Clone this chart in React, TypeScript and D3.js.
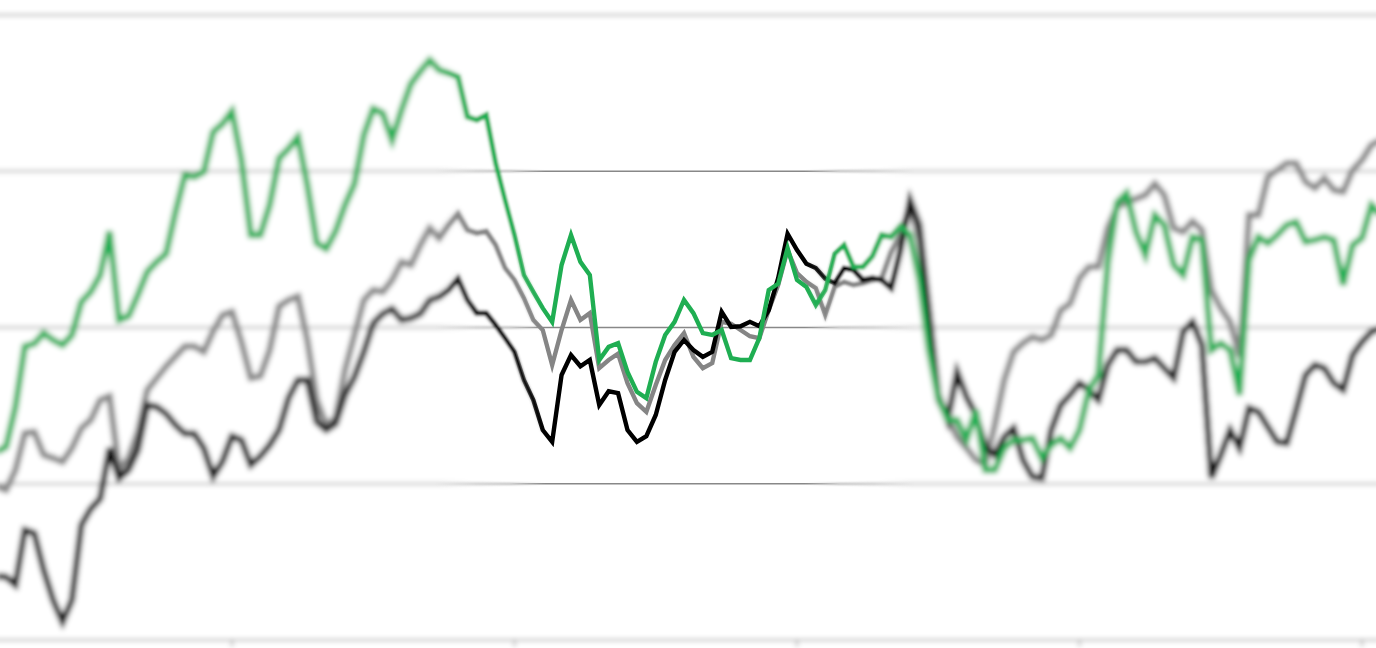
import React from 'react';
import * as d3 from 'd3';

// calendar days shown on the x axis (one point per day)
const days = d3.range(5, 153);

const grayValues = [
  24.6, 24.0, 27.2, 33.1, 33.3, 29.6, 29.1, 28.5, 30.7, 33.9,
  35.2, 38.4, 39.0, 27.2, 29.1, 33.3, 40.0, 41.9, 43.8, 45.4,
  47.0, 47.0, 46.1, 49.4, 52.0, 52.5, 47.7, 41.9, 42.2, 46.4,
  53.4, 54.4, 55.0, 48.0, 38.4, 34.4, 35.5, 43.2, 48.8, 54.4,
  56.0, 55.7, 57.6, 60.5, 60.0, 63.2, 65.9, 64.3, 66.4, 68.2,
  65.6, 65.1, 65.4, 63.2, 59.5, 57.6, 54.7, 51.2, 49.6, 44.0,
  49.6, 54.4, 51.2, 52.3, 43.5, 44.8, 45.8, 41.1, 37.9, 36.5,
  40.8, 44.8, 47.2, 49.1, 45.3, 43.5, 44.3, 50.9, 50.6, 49.6,
  48.6, 48.3, 52.8, 56.8, 62.4, 58.7, 57.3, 56.3, 52.0, 56.5,
  57.3, 56.8, 57.1, 57.6, 57.9, 62.1, 64.8, 69.6, 64.0, 52.8,
  38.4, 35.5, 32.5, 30.7, 28.8, 28.0, 34.4, 41.6, 46.1, 47.5,
  48.5, 48.0, 48.8, 52.8, 53.8, 57.9, 59.7, 59.7, 65.9, 69.3,
  70.1, 70.6, 71.2, 73.0, 71.2, 65.9, 65.3, 67.0, 65.6, 56.0,
  53.1, 50.9, 45.3, 68.0, 68.0, 74.1, 75.2, 76.3, 76.3, 73.3,
  72.3, 73.9, 72.0, 71.7, 75.2, 76.8, 79.2, 80.0,
];

const blackValues = [
  10.2, 10.1, 8.8, 17.6, 17.1, 11.2, 6.4, 2.9, 6.4, 18.4,
  21.0, 22.6, 30.7, 25.9, 27.2, 30.4, 37.6, 37.3, 36.2, 34.4,
  33.0, 33.0, 30.7, 26.2, 28.6, 32.6, 32.0, 28.0, 29.4, 31.2,
  33.6, 38.7, 41.6, 41.6, 34.9, 33.6, 34.6, 39.2, 42.1, 46.1,
  50.7, 52.2, 53.0, 51.2, 51.5, 52.2, 54.4, 54.9, 56.0, 57.8,
  54.4, 52.3, 52.3, 50.4, 48.3, 46.1, 41.6, 38.4, 33.6, 31.7,
  42.4, 45.6, 43.8, 44.8, 37.6, 39.8, 39.5, 33.6, 31.7, 32.6,
  36.0, 41.6, 46.1, 48.0, 46.4, 45.3, 46.1, 52.5, 50.1, 50.2,
  50.9, 50.2, 52.8, 57.9, 65.0, 62.4, 60.2, 59.5, 57.8, 57.1,
  59.5, 59.2, 57.6, 57.9, 57.6, 56.3, 62.4, 70.4, 66.4, 52.8,
  39.2, 35.2, 42.9, 38.9, 36.0, 30.9, 29.6, 32.5, 33.9, 28.8,
  26.1, 25.9, 33.6, 37.6, 39.2, 41.1, 40.0, 38.4, 44.0, 46.4,
  46.4, 44.5, 44.5, 45.1, 43.5, 41.9, 49.3, 50.9, 47.2, 25.9,
  29.6, 33.6, 30.7, 37.1, 36.5, 34.1, 31.7, 31.5, 36.8, 42.4,
  44.0, 43.5, 41.1, 40.0, 45.6, 47.7, 49.3, 49.9,
];

const greenValues = [
  30.1, 30.9, 37.3, 47.0, 47.4, 49.1, 48.0, 47.2, 48.8, 54.1,
  55.7, 58.4, 65.4, 51.2, 51.8, 55.2, 58.9, 60.5, 61.8, 68.5,
  74.4, 74.1, 74.9, 81.3, 82.6, 84.6, 76.8, 64.8, 64.8, 69.6,
  77.1, 78.6, 80.5, 72.8, 63.5, 62.6, 65.4, 69.6, 73.0, 80.8,
  85.0, 84.3, 80.0, 84.8, 89.0, 91.0, 92.8, 91.2, 90.7, 90.1,
  83.7, 83.2, 84.0, 76.3, 70.4, 64.8, 58.4, 55.7, 53.1, 50.9,
  60.0, 64.8, 60.5, 58.4, 44.8, 46.9, 47.5, 42.9, 39.7, 38.7,
  44.5, 48.8, 50.9, 54.4, 52.3, 49.1, 48.8, 49.6, 45.1, 44.8,
  44.8, 48.3, 56.0, 57.0, 62.7, 57.6, 56.5, 53.6, 56.0, 61.8,
  63.2, 59.7, 59.7, 61.4, 64.8, 64.5, 66.2, 64.8, 57.6, 46.4,
  38.7, 35.2, 35.2, 32.0, 36.8, 27.2, 27.2, 30.7, 32.0, 32.0,
  32.3, 29.1, 31.2, 32.3, 30.7, 33.6, 40.0, 42.4, 60.3, 70.0,
  71.5, 65.3, 61.6, 68.0, 66.4, 60.0, 58.4, 64.5, 64.0, 46.4,
  47.5, 46.4, 39.2, 60.8, 64.5, 63.5, 64.8, 66.4, 66.9, 63.7,
  64.0, 64.5, 64.0, 56.8, 63.2, 64.3, 69.6, 68.0,
];

const gridValues = [0, 25, 50, 75, 100];
const tickDays = [30, 60, 90, 120, 150];

const series = [
  { name: 'gray', color: '#858585', values: grayValues },
  { name: 'black', color: '#000000', values: blackValues },
  { name: 'green', color: '#1fae52', values: greenValues },
];

const width = 1376;
const height = 648;
const focusX = 675;

// depth-of-field bands: sharp in the middle, blurrier towards the edges
const base = { blur: 2.8, stroke: 6.4 };
const levels = [
  { id: 'l2', blur: 1.8, stroke: 5.5, inner: 200, outer: 240, top: 60, bottom: 590, fade: 40 },
  { id: 'l1', blur: 0.9, stroke: 4.9, inner: 165, outer: 200, top: 85, bottom: 565, fade: 40 },
  { id: 'l0', blur: 0, stroke: 4.4, inner: 130, outer: 165, top: 110, bottom: 540, fade: 45 },
];

const x = d3.scaleLinear().domain([0, 30]).range([-50.5, 232]);
const y = d3.scaleLinear().domain([0, 100]).range([640, 15]);

const line = d3
  .line<number>()
  .x((_, i) => x(days[i]))
  .y((d) => y(d));

const Scene = ({ stroke }: { stroke: number }) => (
  <g>
    <rect x={-100} y={-100} width={width + 200} height={height + 200} fill="#fff" />
    {gridValues.map((v) => (
      <line
        key={v}
        x1={-100}
        x2={width + 100}
        y1={y(v)}
        y2={y(v)}
        stroke="#888"
        strokeWidth={1.4}
      />
    ))}
    {tickDays.map((d) => (
      <line key={d} x1={x(d)} x2={x(d)} y1={y(0)} y2={y(0) + 7} stroke="#888" strokeWidth={1.4} />
    ))}
    {series.map((s) => (
      <path key={s.name} d={line(s.values) || ''} fill="none" stroke={s.color} strokeWidth={stroke} />
    ))}
  </g>
);

const big = { x: -100, y: -100, width: width + 200, height: height + 200 };

const App = () => {
  const offX = (px: number) => Math.max(0, Math.min(1, px / width));
  const offY = (px: number) => Math.max(0, Math.min(1, px / height));
  return (
    <svg
      width={width}
      height={height}
      style={{ position: 'absolute', left: 0, top: 0, display: 'block' }}
    >
      <defs>
        <filter id="blur-base" filterUnits="userSpaceOnUse" {...big}>
          <feGaussianBlur stdDeviation={base.blur} />
        </filter>
        {levels
          .filter((l) => l.blur > 0)
          .map((l) => (
            <filter key={l.id} id={`blur-${l.id}`} filterUnits="userSpaceOnUse" {...big}>
              <feGaussianBlur stdDeviation={l.blur} />
            </filter>
          ))}
        {levels.map((l) => (
          <linearGradient key={l.id} id={`gx-${l.id}`} gradientUnits="userSpaceOnUse" x1={0} x2={width} y1={0} y2={0}>
            <stop offset={offX(focusX - l.outer)} stopColor="#000" />
            <stop offset={offX(focusX - l.inner)} stopColor="#fff" />
            <stop offset={offX(focusX + l.inner)} stopColor="#fff" />
            <stop offset={offX(focusX + l.outer)} stopColor="#000" />
          </linearGradient>
        ))}
        {levels.map((l) => (
          <linearGradient key={l.id} id={`gy-${l.id}`} gradientUnits="userSpaceOnUse" x1={0} x2={0} y1={0} y2={height}>
            <stop offset={offY(l.top - l.fade)} stopColor="#000" />
            <stop offset={offY(l.top)} stopColor="#fff" />
            <stop offset={offY(l.bottom)} stopColor="#fff" />
            <stop offset={offY(l.bottom + l.fade)} stopColor="#000" />
          </linearGradient>
        ))}
        {levels.map((l) => (
          <React.Fragment key={l.id}>
            <mask id={`mx-${l.id}`} maskUnits="userSpaceOnUse" {...big}>
              <rect {...big} fill={`url(#gx-${l.id})`} />
            </mask>
            <mask id={`my-${l.id}`} maskUnits="userSpaceOnUse" {...big}>
              <rect {...big} fill={`url(#gy-${l.id})`} />
            </mask>
          </React.Fragment>
        ))}
      </defs>

      <g filter="url(#blur-base)">
        <Scene stroke={base.stroke} />
      </g>
      {levels.map((l) => (
        <g key={l.id} mask={`url(#my-${l.id})`}>
          <g mask={`url(#mx-${l.id})`}>
            {l.blur > 0 ? (
              <g filter={`url(#blur-${l.id})`}>
                <Scene stroke={l.stroke} />
              </g>
            ) : (
              <Scene stroke={l.stroke} />
            )}
          </g>
        </g>
      ))}
    </svg>
  );
};

export default App;
